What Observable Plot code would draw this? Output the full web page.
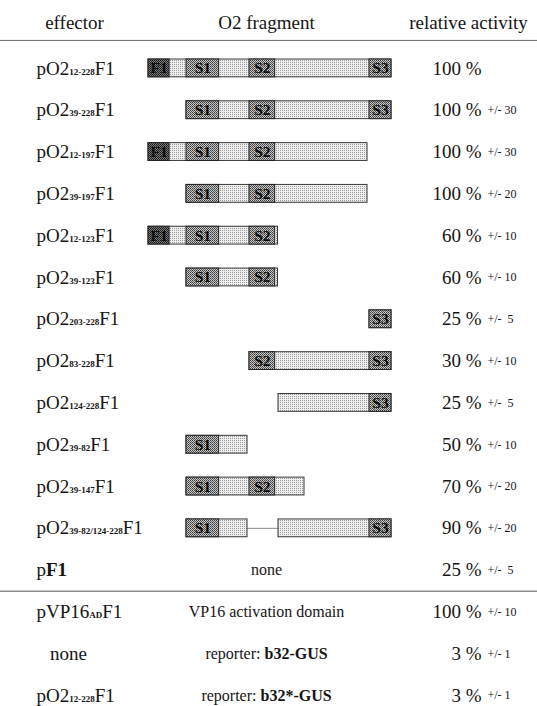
<!DOCTYPE html>
<html>
<head>
<meta charset="utf-8">
<script src="https://cdn.jsdelivr.net/npm/d3@7"></script>
<script src="https://cdn.jsdelivr.net/npm/@observablehq/plot@0.6"></script>
<style>
html, body { margin: 0; padding: 0; background: #fff; }
#chart svg text { white-space: pre; }
</style>
</head>
<body>
<svg width="0" height="0" style="position:absolute">
  <defs>
    <pattern id="light" width="2" height="2" patternUnits="userSpaceOnUse">
      <rect width="2" height="2" fill="#efefef"/>
      <rect width="1" height="1" fill="#9a9a9a"/>
    </pattern>
    <pattern id="mid" width="2" height="2" patternUnits="userSpaceOnUse">
      <rect width="2" height="2" fill="#c8c8c8"/>
      <rect width="1" height="1" fill="#3a3a3a"/>
      <rect x="1" y="1" width="1" height="1" fill="#5a5a5a"/>
    </pattern>
    <pattern id="dark" width="2" height="2" patternUnits="userSpaceOnUse">
      <rect width="2" height="2" fill="#7a7a7a"/>
      <rect width="1" height="1" fill="#161616"/>
      <rect x="1" y="1" width="1" height="1" fill="#262626"/>
    </pattern>
  </defs>
</svg>
<div id="chart"></div>
<script>
// ---- data ----
const headers = ["effector", "O2 fragment", "relative activity"];

const effMain = ["pO2","pO2","pO2","pO2","pO2","pO2","pO2","pO2","pO2","pO2","pO2","pO2","p","pVP16","none","pO2"];
const effSub  = ["12-228","39-228","12-197","39-197","12-123","39-123","203-228","83-228","124-228","39-82","39-147","39-82/124-228","","AD","","12-228"];
const effEnd  = ["F1","F1","F1","F1","F1","F1","F1","F1","F1","F1","F1","F1","F1","F1","","F1"];
const effEndBold = [false,false,false,false,false,false,false,false,false,false,false,false,true,false,false,false];

const fragNote = ["","","","","","","","","","","","","none","VP16 activation domain","reporter: |b32-GUS","reporter: |b32*-GUS"];

const activity    = [100,100,100,100,60,60,25,30,25,50,70,90,25,100,3,3];
const activityErr = ["","+/- 30","+/- 30","+/- 20","+/- 10","+/- 10","+/-  5","+/- 10","+/-  5","+/- 10","+/- 20","+/- 20","+/-  5","+/- 10","+/- 1","+/- 1"];

// O2 fragments (amino-acid boundaries), one entry per segment
const segRow   = [0,1,2,3,4,5,6,7,8,9,10,11,11];
const segStart = [12,39,12,39,12,39,203,83,124,39,39,39,124];
const segEnd   = [228,228,197,197,123,123,228,228,228,82,147,82,228];

// domains inside O2
const domainName  = ["F1","S1","S2","S3"];
const domainStart = [12,39,83,203];
const domainEnd   = [27,62,119,228];

// the drawing is schematic (not to scale): residue -> schematic position
const schematic = d3.scaleLinear()
  .domain([12, 39, 82, 83, 123, 124, 147, 197, 203, 228])
  .range([148, 186, 247, 249, 277.5, 278, 304, 367, 369, 391]);

// ---- derived tables ----
const rows = d3.range(effMain.length).map(i => ({
  i, main: effMain[i], sub: effSub[i], end: effEnd[i], bold: effEndBold[i],
  note: fragNote[i], value: activity[i], err: activityErr[i]
}));
const segs = segRow.map((r, k) => ({row: r, start: segStart[k], end: segEnd[k]}));
const boxes = segs.flatMap(s => domainName.map((n, j) => ({
  row: s.row, name: n,
  start: Math.max(s.start, domainStart[j]),
  end: Math.min(s.end, domainEnd[j])
})).filter(b => b.end > b.start));
const links = [];
for (let k = 1; k < segs.length; k++) {
  if (segs[k].row === segs[k - 1].row) links.push({row: segs[k].row, x1: segs[k - 1].end, x2: segs[k].start});
}

const serif = "'Liberation Serif', 'Times New Roman', serif";
const colX = [74, 266, 468];

const chart = Plot.plot({
  width: 537,
  height: 706,
  margin: 0,
  style: {fontFamily: serif, color: "#151515", background: "#fff", overflow: "visible"},
  x: {transform: schematic, type: "linear", domain: [0, 537], range: [0, 537], axis: null},
  y: {type: "band", domain: d3.range(rows.length), range: [47, 716], padding: 0, round: false, axis: null},
  marks: [
    // header + separators
    ...headers.map((h, k) => Plot.text([h], {y: () => 0, text: d => d, frameAnchor: "left", dx: colX[k], dy: -46, textAnchor: "middle", fontSize: 19})),
    Plot.ruleY([0], {y: d => d, dy: -28, stroke: "#666", strokeWidth: 1}),
    Plot.ruleY([12], {y: d => d, dy: 21, stroke: "#555", strokeWidth: 1}),
    // effector labels
    Plot.text(rows.filter(d => d.end), {y: "i", text: d => `${d.main}|${d.sub}|${d.end}|${d.bold ? 1 : 0}`, frameAnchor: "left", dx: 36, textAnchor: "start", fontSize: 19}),
    Plot.text(rows.filter(d => !d.end), {y: "i", text: "main", frameAnchor: "left", dx: 68, textAnchor: "middle", fontSize: 19}),
    // fragments
    Plot.ruleY(links, {y: "row", x1: "x1", x2: "x2", stroke: "#8a8a8a", strokeWidth: 1}),
    Plot.barX(segs, {y: "row", x1: "start", x2: "end", fill: "url(#light)", stroke: "#3a3a3a", strokeWidth: 1, insetTop: 12, insetBottom: 12}),
    Plot.barX(boxes.filter(b => b.name === "F1"), {y: "row", x1: "start", x2: "end", fill: "url(#dark)", stroke: "#222", strokeWidth: 1, insetTop: 12, insetBottom: 12}),
    Plot.barX(boxes.filter(b => b.name !== "F1"), {y: "row", x1: "start", x2: "end", fill: "url(#mid)", stroke: "#222", strokeWidth: 1, insetTop: 12, insetBottom: 12}),
    Plot.text(boxes, {y: "row", x: d => (d.start + d.end) / 2, text: "name", fontWeight: "bold", fontSize: 15.5, fill: "#0a0a0a"}),
    // fragment notes
    Plot.text(rows.filter(d => d.note), {y: "i", text: "note", frameAnchor: "left", dx: 266, textAnchor: "middle", fontSize: 16}),
    // activity
    Plot.text(rows, {y: "i", text: d => `${d.value} %`, frameAnchor: "left", dx: 481, textAnchor: "end", fontSize: 19}),
    Plot.text(rows.filter(d => d.err), {y: "i", text: "err", frameAnchor: "left", dx: 487, textAnchor: "start", fontSize: 12})
  ]
});

// rich text: subscripts and bold parts
d3.select(chart).selectAll("text").each(function () {
  const t = d3.select(this);
  const s = t.text();
  if (!s.includes("|")) return;
  const parts = s.split("|");
  t.text(null);
  if (parts.length === 4) {
    const [main, sub, end, bold] = parts;
    t.append("tspan").text(main);
    t.append("tspan").attr("font-size", 9).attr("font-weight", "bold").text(sub);
    t.append("tspan").attr("font-weight", bold === "1" ? "bold" : null).text(end);
  } else {
    t.append("tspan").text(parts[0]);
    t.append("tspan").attr("font-weight", "bold").text(parts[1]);
  }
});

document.getElementById("chart").appendChild(chart);
</script>
</body>
</html>
